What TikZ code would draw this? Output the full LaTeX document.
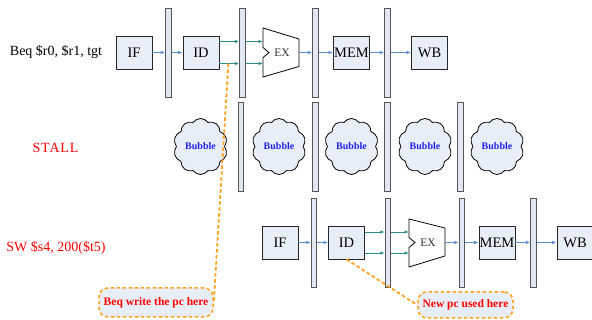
\documentclass[tikz,border=0pt]{standalone}
\usepackage{fontspec}
\setmainfont{Liberation Serif}
\usetikzlibrary{arrows.meta,shapes.symbols,calc}

\definecolor{stagefill}{HTML}{E8EEF8}
\definecolor{barfill}{HTML}{E2E8F3}
\definecolor{barline}{HTML}{555555}
\definecolor{flowblue}{HTML}{5B8BD0}
\definecolor{flowteal}{HTML}{2A8C8C}
\definecolor{noteorange}{HTML}{FFA21F}
\definecolor{bubbleblue}{HTML}{2222EE}

\tikzset{
  stagebox/.style={draw=black!85, line width=0.8pt, fill=stagefill, minimum width=36pt,
    minimum height=33pt, inner sep=0pt, font=\fontsize{14.5}{16}\selectfont},
  pipereg/.style={draw=barline, line width=0.9pt, fill=barfill, minimum width=5.5pt,
    minimum height=89pt, inner sep=0pt},
  flow/.style={draw=flowblue, line width=0.9pt, -{Latex[length=4.5pt,width=3.5pt]}},
  tealflow/.style={draw=flowteal, line width=0.9pt, -{Latex[length=4.5pt,width=3.5pt]}},
  alu/.style={draw=black, line width=0.8pt, fill=white},
  alulabel/.style={font=\fontsize{11.5}{13}\selectfont, text=black!80, inner sep=0pt},
  bubble/.style={cloud, cloud puffs=10, cloud puff arc=110, aspect=1, draw=black, line width=0.8pt,
    fill=stagefill, minimum width=54pt, minimum height=56pt, inner sep=0pt,
    font=\bfseries\fontsize{10}{12}\selectfont, text=bubbleblue},
  instr/.style={font=\fontsize{14}{16}\selectfont, inner sep=0pt},
  note/.style={draw=noteorange, line width=1.5pt, dash pattern=on 3.5pt off 2.5pt,
    fill=stagefill, rounded corners=9pt, inner sep=0pt, text=red,
    font=\bfseries\fontsize{11.5}{13}\selectfont},
  noteline/.style={draw=noteorange, line width=1.8pt, dash pattern=on 3.5pt off 2.5pt},
}

\begin{document}
\begin{tikzpicture}[x=1pt, y=-1pt]
\useasboundingbox (0,0) rectangle (592,320);

% ---------- instruction labels ----------
\node[instr] (lblBeq) at (56,52) {Beq \$r0, \$r1, tgt};
\node[instr, text=red] (lblStall) at (55.5,147.5) {\addfontfeature{LetterSpace=6}STALL};
\node[instr, text=red] (lblSw) at (56,248) {SW \$s4, 200(\$t5)};

% ---------- first instruction: Beq ----------
\node[stagebox] (ifA)  at (134,52.5) {IF};
\node[pipereg]  (rA1)  at (168.5,52.5) {};
\node[stagebox] (idA)  at (201,52.5) {ID};
\node[pipereg]  (rA2)  at (242.5,52.5) {};
\node[pipereg]  (rA3)  at (315.5,52.5) {};
\node[stagebox] (memA) at (351.5,52.5) {MEM};
\node[pipereg]  (rA4)  at (387.5,52.5) {};
\node[stagebox] (wbA)  at (429.5,52.5) {WB};

\begin{scope}[shift={(263,52.5)}]
  \draw[alu] (0,-24.5) -- (0,-5) -- (6,0) -- (0,5) -- (0,24.5)
             -- (36,14) -- (36,-13.5) -- cycle;
  \coordinate (exAin1) at (0,-11);
  \coordinate (exAin2) at (0,11);
  \coordinate (exAout) at (36,0);
  \node[alulabel] (exA) at (19,0) {EX};
\end{scope}

\draw[flow] (ifA.east) -- (rA1.west |- ifA.east);
\draw[flow] (rA1.east |- idA.west) -- (idA.west);
\coordinate (idAo1) at ($(idA.east)+(0,-11)$);
\coordinate (idAo2) at ($(idA.east)+(0,11)$);
\draw[tealflow] (idAo1) -- (rA2.west |- idAo1);
\draw[tealflow] (idAo2) -- (rA2.west |- idAo2);
\draw[tealflow] (rA2.east |- exAin1) -- (exAin1);
\draw[tealflow] (rA2.east |- exAin2) -- (exAin2);
\draw[flow] (exAout) -- (rA3.west |- exAout);
\draw[flow] (rA3.east |- memA.west) -- (memA.west);
\draw[flow] (memA.east) -- (rA4.west |- memA.east);
\draw[flow] (rA4.east |- wbA.west) -- (wbA.west);

% ---------- stall cycle ----------
\node[bubble] (bub1) at (200.5,146.5) {Bubble};
\node[pipereg] (rB1) at (241,146.5) {};
\node[bubble] (bub2) at (279,146.5) {Bubble};
\node[pipereg] (rB2) at (315.5,146.5) {};
\node[bubble] (bub3) at (351.5,146.5) {Bubble};
\node[pipereg] (rB3) at (387.5,146.5) {};
\node[bubble] (bub4) at (425,146.5) {Bubble};
\node[pipereg] (rB4) at (460.5,146.5) {};
\node[bubble] (bub5) at (497,146.5) {Bubble};

% ---------- second instruction: SW ----------
\node[stagebox] (ifC)  at (280,242.5) {IF};
\node[pipereg]  (rC1)  at (314,242.5) {};
\node[stagebox] (idC)  at (346.5,242.5) {ID};
\node[pipereg]  (rC2)  at (388,242.5) {};
\node[pipereg]  (rC3)  at (462,242.5) {};
\node[stagebox] (memC) at (497,242.5) {MEM};
\node[pipereg]  (rC4)  at (533.5,242.5) {};
\node[stagebox] (wbC)  at (575,242.5) {WB};

\begin{scope}[shift={(409,242.5)}]
  \draw[alu] (0,-23.5) -- (0,-5) -- (6,0) -- (0,5) -- (0,24.5)
             -- (36,13.5) -- (36,-14.5) -- cycle;
  \coordinate (exCin1) at (0,-10.5);
  \coordinate (exCin2) at (0,10.5);
  \coordinate (exCout) at (36,0);
  \node[alulabel] (exC) at (19,0) {EX};
\end{scope}

\draw[flow] (ifC.east) -- (rC1.west |- ifC.east);
\draw[flow] (rC1.east |- idC.west) -- (idC.west);
\coordinate (idCo1) at ($(idC.east)+(0,-10.5)$);
\coordinate (idCo2) at ($(idC.east)+(0,10.5)$);
\draw[tealflow] (idCo1) -- (rC2.west |- idCo1);
\draw[tealflow] (idCo2) -- (rC2.west |- idCo2);
\draw[tealflow] (rC2.east |- exCin1) -- (exCin1);
\draw[tealflow] (rC2.east |- exCin2) -- (exCin2);
\draw[flow] (exCout) -- (rC3.west |- exCout);
\draw[flow] (rC3.east |- memC.west) -- (memC.west);
\draw[flow] (memC.east) -- (rC4.west |- memC.east);
\draw[flow] (rC4.east |- wbC.west) -- (wbC.west);

% ---------- annotations ----------
\node[note, minimum width=114pt, minimum height=29pt] (noteWrite) at (156,302.5) {Beq write the pc here};
\node[note, minimum width=95pt, minimum height=26pt] (noteUse) at (465.5,305) {New pc used here};

\coordinate (tapA) at ($(idAo2)+(9,0)$);
\draw[noteline] (tapA) -- (noteWrite.east);
\draw[noteline] (idC.south) -- (noteUse.west);
\end{tikzpicture}
\end{document}
